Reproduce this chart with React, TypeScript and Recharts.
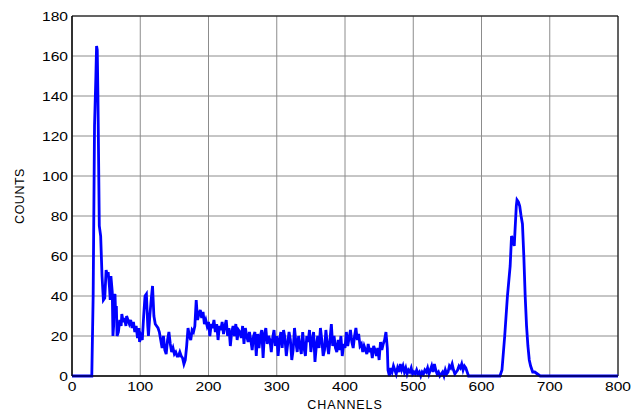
import React from "react";
import { LineChart, Line, XAxis, YAxis, CartesianGrid, ReferenceArea } from "recharts";

const channels: number[] = [
  0, 28, 29, 31, 33, 35, 36, 37, 38, 40, 42, 44, 46, 48, 50, 52, 53, 55, 56, 57, 59, 60, 61, 62, 63, 64, 65, 66, 68, 70,
  72, 73, 75, 77, 79, 80, 82, 84, 86, 88, 90, 92, 94, 96, 98, 99, 101, 103, 105, 107, 109, 111, 112, 114, 116, 118, 120, 122, 124, 126,
  128, 130, 132, 134, 136, 138, 140, 142, 144, 146, 148, 150, 152, 154, 156, 158, 160, 162, 164, 166, 168, 170, 172, 174, 176, 178, 180, 182, 184, 186,
  188, 190, 192, 194, 196, 198, 200, 202, 204, 206, 208, 210, 212, 214, 216, 218, 220, 222, 224, 226, 228, 230, 232, 234, 236, 238, 240, 242, 244, 246,
  248, 250, 252, 254, 256, 258, 260, 262, 264, 266, 268, 270, 272, 274, 276, 278, 280, 282, 284, 286, 288, 290, 292, 294, 296, 298, 300, 302, 304, 306,
  308, 310, 312, 314, 316, 318, 320, 322, 324, 326, 328, 330, 332, 334, 336, 338, 340, 342, 344, 346, 348, 350, 352, 354, 356, 358, 360, 362, 364, 366,
  368, 370, 372, 374, 376, 378, 380, 382, 384, 386, 388, 390, 392, 394, 396, 398, 400, 402, 404, 406, 408, 410, 412, 414, 416, 418, 420, 422, 424, 426,
  428, 430, 432, 434, 436, 438, 440, 442, 444, 446, 448, 450, 452, 454, 456, 458, 460, 462, 463, 465, 467, 469, 471, 473, 475, 477, 479, 481, 483, 485,
  487, 489, 491, 493, 495, 497, 499, 501, 503, 505, 507, 509, 511, 513, 515, 517, 519, 521, 523, 525, 527, 529, 531, 533, 535, 537, 539, 541, 543, 545,
  547, 549, 551, 553, 555, 557, 559, 561, 563, 565, 567, 569, 571, 573, 575, 577, 579, 581, 585, 627, 630, 634, 638, 642, 644, 646, 648, 649, 651, 652,
  654, 656, 658, 660, 662, 664, 666, 668, 670, 672, 675, 678, 682, 686, 800,
];

const counts: number[] = [
  0, 0, 0, 40, 125, 150, 165, 163, 140, 75, 70, 50, 38, 39, 53, 50, 52, 44, 38, 50, 42, 20, 25, 40, 41, 30, 35, 20, 22, 28,
  25, 31, 27, 29, 25, 30, 28, 26, 28, 24, 27, 22, 25, 19, 24, 17, 20, 18, 30, 40, 41, 25, 20, 30, 38, 45, 30, 26, 25, 24,
  22, 18, 14, 20, 13, 11, 18, 22, 16, 12, 14, 11, 12, 10, 10, 12, 10, 9, 6, 8, 15, 24, 20, 18, 23, 22, 25, 38, 28, 31,
  33, 29, 32, 26, 28, 25, 27, 20, 26, 24, 28, 22, 26, 18, 25, 23, 27, 21, 25, 28, 20, 24, 15, 22, 25, 20, 26, 18, 23, 22,
  19, 25, 16, 24, 20, 17, 22, 18, 13, 20, 22, 10, 21, 14, 20, 23, 9, 21, 24, 16, 20, 18, 12, 19, 23, 15, 20, 10, 18, 22,
  14, 23, 19, 10, 16, 22, 18, 8, 13, 24, 17, 12, 20, 15, 11, 22, 14, 10, 20, 17, 23, 12, 18, 22, 7, 15, 20, 14, 24, 18,
  10, 13, 23, 16, 11, 18, 26, 15, 20, 14, 12, 18, 13, 20, 10, 16, 14, 22, 15, 19, 23, 17, 14, 20, 24, 18, 21, 15, 16, 12,
  15, 13, 11, 16, 12, 14, 9, 15, 13, 10, 14, 8, 17, 13, 16, 18, 22, 14, 3, 0, 4, 2, 5, 3, 1, 4, 2, 6, 3, 5,
  2, 4, 1, 3, 2, 4, 1, 2, 1, 3, 1, 2, 0, 2, 1, 3, 2, 4, 1, 3, 5, 2, 6, 3, 1, 2, 0, 1, 2, 0,
  3, 1, 2, 5, 4, 6, 3, 1, 2, 3, 5, 4, 6, 3, 5, 4, 2, 0, 0, 0, 3, 20, 40, 55, 70, 68, 65, 72, 85, 88,
  87, 85, 80, 76, 60, 40, 25, 15, 8, 5, 2, 2, 1, 0, 0,
];

const xTicks: number[] = [0, 100, 200, 300, 400, 500, 600, 700, 800];
const yTicks: number[] = [0, 20, 40, 60, 80, 100, 120, 140, 160, 180];

const data = channels.map((ch, i) => ({ ch, counts: counts[i] }));

const font = "'Liberation Sans', Arial, sans-serif";

const XTick = (props: any) => {
  const { x, y, payload } = props;
  return (
    <g transform={`translate(${x},${y})`}>
      <text transform="scale(1.2,1)" x={0} y={0} dy="0.71em" textAnchor="middle" fill="#000" fontSize={13} fontFamily={font}>
        {payload.value}
      </text>
    </g>
  );
};

const YTick = (props: any) => {
  const { x, y, payload } = props;
  return (
    <g transform={`translate(${x},${y})`}>
      <text transform="scale(1.2,1)" x={0} y={0} dy="0.355em" textAnchor="end" fill="#000" fontSize={13} fontFamily={font}>
        {payload.value}
      </text>
    </g>
  );
};

export default function App() {
  return (
    <div style={{ position: "absolute", left: 0, top: 0, background: "#fff" }}>
      <LineChart
        width={632}
        height={412}
        data={data}
        margin={{ top: 16, right: 14, bottom: 0, left: 0 }}
      >
        <CartesianGrid stroke="#8c8c8c" strokeWidth={1} horizontalValues={yTicks} verticalValues={xTicks} />
        <XAxis
          dataKey="ch"
          type="number"
          domain={[0, 800]}
          ticks={xTicks}
          interval={0}
          height={36}
          tickSize={0}
          tickMargin={6}
          axisLine={{ stroke: "#000", strokeWidth: 1 }}
          tickLine={false}
          tick={<XTick />}
          label={{ value: "CHANNELS", position: "insideBottom", offset: 3, fill: "#000", fontSize: 12.5, fontFamily: font, letterSpacing: 0.9 }}
        />
        <YAxis
          type="number"
          domain={[0, 180]}
          ticks={yTicks}
          interval={0}
          width={72}
          tickSize={0}
          tickMargin={4}
          axisLine={{ stroke: "#000", strokeWidth: 1 }}
          tickLine={false}
          tick={<YTick />}
          label={{ value: "COUNTS", angle: -90, position: "insideLeft", offset: 20, fill: "#000", fontSize: 12.5, fontFamily: font, letterSpacing: 0.5, style: { textAnchor: "middle" } }}
        />
        <ReferenceArea x1={0} x2={800} y1={0} y2={180} fill="none" stroke="#000" strokeWidth={1} ifOverflow="visible" />
        <Line
          type="linear"
          dataKey="counts"
          stroke="#0000ff"
          strokeWidth={2.8}
          dot={false}
          isAnimationActive={false}
        />
      </LineChart>
    </div>
  );
}
